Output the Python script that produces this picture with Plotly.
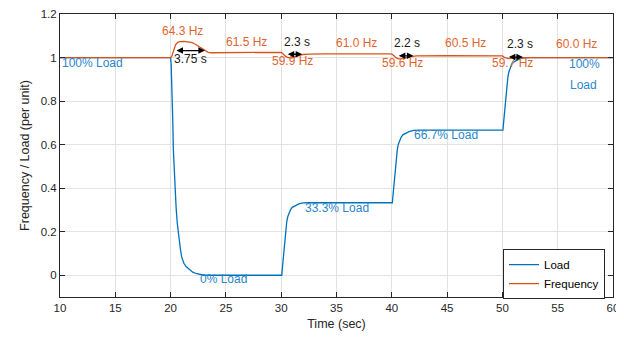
import plotly.graph_objects as go

# ---- data ----
load_t = [10, 20, 20.05, 20.12, 20.2, 20.25, 20.33, 20.4, 20.5, 20.6, 20.7, 20.8, 20.9, 21.0, 21.2,
          21.4, 21.6, 21.8, 22.0, 22.3, 22.6, 23.0,
          30.0, 30.05, 30.1, 30.2, 30.3, 30.4, 30.5, 30.6, 30.7, 30.85, 31.0, 31.3, 31.6, 32.0, 32.5,
          40.0, 40.05, 40.1, 40.2, 40.3, 40.4, 40.5, 40.6, 40.7, 40.85, 41.0, 41.3, 41.6, 42.0, 42.5,
          50.0, 50.05, 50.1, 50.2, 50.3, 50.4, 50.5, 50.6, 50.7, 50.85, 51.0, 51.3, 51.6, 52.0, 52.5, 60]
load_v = [1, 1, 0.97, 0.88, 0.70, 0.575, 0.47, 0.39, 0.31, 0.24, 0.19, 0.15, 0.115, 0.084, 0.055,
          0.04, 0.03, 0.021, 0.014, 0.008, 0.004, 0.0,
          0.0, 0.0, 0.03, 0.084, 0.15, 0.21, 0.245, 0.27, 0.286, 0.302, 0.312, 0.322, 0.328, 0.332, 0.333,
          0.333, 0.333, 0.363, 0.417, 0.483, 0.543, 0.578, 0.603, 0.619, 0.635, 0.645, 0.655, 0.661, 0.665, 0.667,
          0.667, 0.667, 0.697, 0.751, 0.817, 0.877, 0.912, 0.937, 0.953, 0.969, 0.979, 0.989, 0.995, 0.999, 1.0, 1.0]

freq_t = [10, 20, 20.1, 20.2, 20.3, 20.45, 20.6, 20.8, 21.2, 21.6, 21.9, 22.2, 22.5, 22.8, 23.1, 23.4,
          23.7, 24.2, 25, 27, 29.8,
          30.0, 30.2, 30.4, 30.6, 30.8, 31.0, 31.3, 31.6, 32.0, 32.5, 34, 39.8,
          40.0, 40.2, 40.4, 40.6, 40.8, 41.0, 41.3, 41.7, 42.2, 45, 49.8,
          50.0, 50.2, 50.4, 50.6, 50.8, 51.2, 51.7, 60]
freq_v = [1, 1, 1.005, 1.02, 1.04, 1.058, 1.068, 1.073, 1.074, 1.073, 1.07, 1.062, 1.052, 1.04, 1.03, 1.024,
          1.022, 1.022, 1.024, 1.025, 1.025,
          1.024, 1.015, 1.005, 1.0, 0.998, 0.999, 1.005, 1.01, 1.014, 1.016, 1.017, 1.017,
          1.016, 1.008, 0.998, 0.994, 0.993, 0.995, 1.0, 1.005, 1.008, 1.0083, 1.0083,
          1.0075, 1.0, 0.996, 0.995, 0.996, 0.998, 1.0, 1.0]

# labels: (text, x, y)
freq_labels = [("64.3 Hz", 21.1, 1.122), ("61.5 Hz", 26.9, 1.071), ("59.9 Hz", 31.05, 0.984),
               ("61.0 Hz", 36.8, 1.066), ("59.6 Hz", 41.0, 0.976), ("60.5 Hz", 46.7, 1.066),
               ("59.7 Hz", 50.9, 0.976), ("60.0 Hz", 56.7, 1.062)]
time_labels = [("3.75 s", 21.8, 0.993), ("2.3 s", 31.4, 1.071), ("2.2 s", 41.4, 1.066), ("2.3 s", 51.6, 1.062)]
load_labels = [("100% Load", 12.9, 0.975), ("0% Load", 24.8, -0.018), ("33.3% Load", 35.0, 0.308),
               ("66.7% Load", 44.9, 0.644), ("100%", 57.4, 0.97), ("Load", 57.3, 0.874)]
# arrows: (start t, end t, level)
arrows = [(20.4, 23.1, 1.032), (30.45, 31.9, 1.015), (40.5, 41.95, 1.008), (50.45, 51.85, 1.002)]

BLUE = "#0072BD"
ORANGE = "#D95319"
FONT = "Liberation Sans, Arial, sans-serif"

fig = go.Figure()
fig.add_trace(go.Scatter(x=load_t, y=load_v, mode="lines", name="Load",
                         line=dict(color=BLUE, width=1.3)))
fig.add_trace(go.Scatter(x=freq_t, y=freq_v, mode="lines", name="Frequency",
                         line=dict(color=ORANGE, width=1.3)))

ann = []
for txt, x, y in freq_labels:
    ann.append(dict(text=txt, x=x, y=y, showarrow=False, font=dict(color="#E0652F", size=12)))
for txt, x, y in time_labels:
    ann.append(dict(text=txt, x=x, y=y, showarrow=False, font=dict(color="#1a1a1a", size=12)))
for txt, x, y in load_labels:
    ann.append(dict(text=txt, x=x, y=y, showarrow=False, font=dict(color="#2a86cc", size=12)))
for a, b, lv in arrows:
    ann.append(dict(text="", x=b, y=lv, ax=a, ay=lv, axref="x", ayref="y", showarrow=True,
                    arrowhead=2, startarrowhead=2, arrowside="end+start", arrowsize=1,
                    arrowwidth=1.3, arrowcolor="#000000", standoff=0, startstandoff=0))

axis_common = dict(showline=True, linecolor="#262626", linewidth=1, mirror="ticks",
                   ticks="inside", ticklen=5, tickcolor="#262626", showgrid=True,
                   gridcolor="#e2e2e2", gridwidth=1, zeroline=False, automargin=False,
                   tickfont=dict(size=11.5, color="#262626"))

# page body adds an 8px offset, so the figure is 8px smaller and margins shifted
fig.update_layout(
    width=616, height=330,
    margin=dict(l=52, r=11, t=6, b=41, autoexpand=False),
    paper_bgcolor="white", plot_bgcolor="white",
    font=dict(family=FONT, color="#262626"),
    xaxis=dict(range=[10, 60], tickvals=[10, 15, 20, 25, 30, 35, 40, 45, 50, 55, 60],
               title=dict(text="Time (sec)", font=dict(size=12.5), standoff=6), **axis_common),
    yaxis=dict(range=[-0.1, 1.2], tickvals=[0, 0.2, 0.4, 0.6, 0.8, 1, 1.2],
               title=dict(text="Frequency / Load (per unit)", font=dict(size=12.5), standoff=8),
               **axis_common),
    legend=dict(x=0.9855, y=0.169, xanchor="right", yanchor="top",
                bgcolor="white", bordercolor="#262626", borderwidth=1,
                font=dict(size=11.5, color="#000000"), itemwidth=30,
                tracegroupgap=0),
    annotations=ann,
    showlegend=True,
)

fig.write_html("out.html")
